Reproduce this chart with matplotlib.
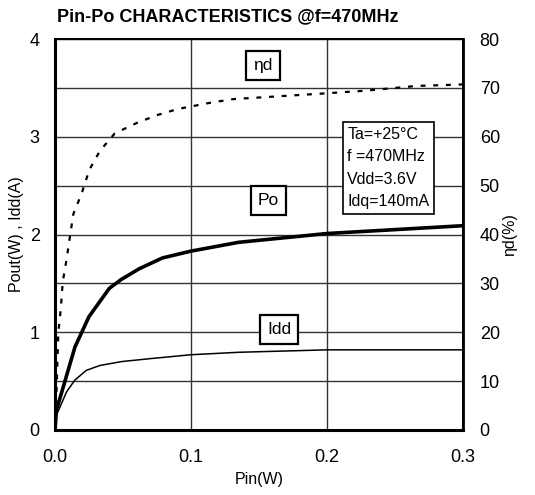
import matplotlib
matplotlib.use("Agg")
import matplotlib.pyplot as plt
import numpy as np

plt.rcParams["font.family"] = ["Liberation Sans", "DejaVu Sans"]

# Pin (W) vs output power / drain current
pin_po = [0.0, 0.001, 0.0147, 0.025, 0.040, 0.0487, 0.062, 0.079, 0.100, 0.135, 0.200, 0.300]
po = [0.0, 0.20, 0.85, 1.16, 1.45, 1.54, 1.65, 1.76, 1.83, 1.92, 2.01, 2.09]

pin_idd = [0.0, 0.001, 0.0085, 0.0146, 0.023, 0.033, 0.049, 0.070, 0.100, 0.135, 0.200, 0.300]
idd = [0.0, 0.15, 0.39, 0.51, 0.61, 0.66, 0.70, 0.73, 0.77, 0.795, 0.82, 0.82]

# Pin (W) vs drain efficiency (%)
pin_eff = [0.0, 0.00125, 0.0024, 0.0042, 0.0057, 0.0086, 0.011, 0.0135, 0.0196, 0.0252,
           0.033, 0.044, 0.060, 0.0747, 0.0907, 0.115, 0.131, 0.160, 0.200, 0.227, 0.266, 0.300]
eff = [0.0, 8.9, 19.8, 24.6, 30.3, 35.1, 39.6, 44.2, 48.4, 53.2,
       57.1, 60.7, 62.8, 64.4, 65.7, 67.0, 67.7, 68.2, 68.9, 69.4, 70.4, 70.7]

x_ticks = [0.0, 0.1, 0.2, 0.3]
left_ticks = [0, 1, 2, 3, 4]
right_ticks = [0, 10, 20, 30, 40, 50, 60, 70, 80]

W, H = 535, 495
fig = plt.figure(figsize=(W / 100, H / 100), dpi=100)
ax = fig.add_axes([55 / W, (H - 430) / H, 408 / W, 391 / H])
ax2 = ax.twinx()

ax.set_xlim(0, 0.3)
ax.set_ylim(0, 4)
ax2.set_ylim(0, 80)

# grid: vertical at 0.1 steps, horizontal at 0.5 steps
ax.set_yticks(np.arange(0, 4.01, 0.5), minor=True)
ax.grid(True, which="both", color="#333333", linewidth=1.0)
ax.set_axisbelow(True)

ax.plot(pin_po, po, color="black", linewidth=2.6, solid_capstyle="butt")
ax.plot(pin_idd, idd, color="black", linewidth=1.1)
ax2.plot(pin_eff, eff, color="black", linewidth=1.6, linestyle=(0, (2.2, 3.5)))

ax.set_xticks(x_ticks)
ax.set_xticklabels(["0.0", "0.1", "0.2", "0.3"])
ax.set_yticks(left_ticks)
ax2.set_yticks(right_ticks)

for a in (ax, ax2):
    a.tick_params(axis="both", which="both", length=0, labelsize=13, colors="black")
ax.tick_params(axis="y", pad=11)
ax.tick_params(axis="x", pad=14)
ax2.tick_params(axis="y", pad=12)

for s in ax.spines.values():
    s.set_linewidth(1.4)
ax.spines["left"].set_linewidth(2.2)
ax.spines["bottom"].set_linewidth(2.2)
ax2.spines["right"].set_linewidth(2.0)

ax.set_xlabel("Pin(W)", fontsize=11.5, labelpad=4)
ax.set_ylabel("Pout(W) , Idd(A)", fontsize=11.5)
ax.yaxis.set_label_coords(-0.075, 0.5)
ax2.set_ylabel("ηd(%)", fontsize=11.5, rotation=90)
ax2.yaxis.set_label_coords(1.095, 0.5)

fig.text(57 / W, 1 - 17 / H, "Pin-Po CHARACTERISTICS @f=470MHz",
         fontsize=13, fontweight="bold", va="center", ha="left")

box = dict(boxstyle="square,pad=0.4", facecolor="white", edgecolor="black", linewidth=1.6)
ax.text(0.153, 3.73, "ηd", fontsize=12.5, ha="center", va="center", bbox=box)
ax.text(0.157, 2.35, "Po", fontsize=12.5, ha="center", va="center", bbox=box)
ax.text(0.165, 1.03, "Idd", fontsize=12.5, ha="center", va="center", bbox=box)
ax.text(0.215, 2.68, "Ta=+25°C\nf =470MHz\nVdd=3.6V\nIdq=140mA",
        fontsize=11.5, ha="left", va="center", linespacing=1.6,
        bbox=dict(boxstyle="square,pad=0.3", facecolor="white", edgecolor="black", linewidth=1.2))

fig.savefig("out.png", dpi=100)
